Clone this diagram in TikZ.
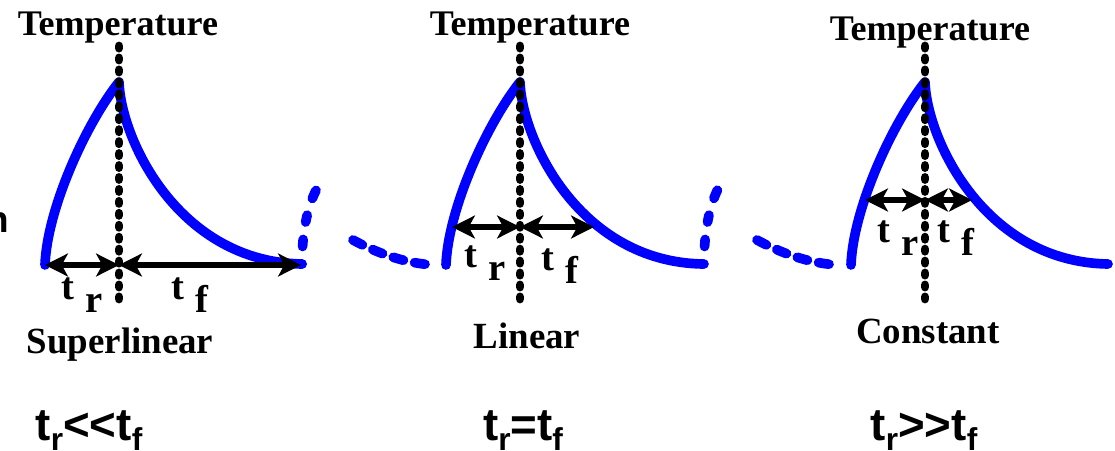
\documentclass[tikz,border=0pt]{standalone}
\usepackage{fontspec}
\setmainfont{Liberation Serif}
\newfontfamily\relfont{Liberation Sans}
\usepackage{tikz}
\usetikzlibrary{arrows.meta}

\newcommand{\tsub}[1]{t\hspace{0.3em}\raisebox{-0.34em}{#1}}
\newcommand{\rsub}[1]{t\raisebox{-0.22em}{\fontsize{18}{18}\selectfont #1}}

\begin{document}
\begin{tikzpicture}[
  x=0.02cm, y=-0.02cm,
  pulse/.style={draw=blue, line width=5.5pt, line cap=round, line join=round},
  tail/.style={draw=blue, line width=5.5pt, line cap=round},
  axis/.style={draw=black, line width=5pt, line cap=round, dash pattern=on 1.2pt off 5.6pt},
  span/.style={{Stealth[length=13pt,width=13pt,inset=3.5pt]}-{Stealth[length=13pt,width=13pt,inset=3.5pt]}, line width=3pt},
  head/.style={font=\fontsize{20.5}{22}\selectfont\bfseries, anchor=base, inner sep=0pt},
  tlbl/.style={font=\fontsize{22}{24}\selectfont\bfseries, anchor=base west, inner sep=0pt},
  cls/.style={font=\fontsize{21}{23}\selectfont\bfseries, anchor=base, inner sep=0pt},
  rel/.style={font=\relfont\fontsize{26}{28}\selectfont\bfseries, anchor=base, inner sep=0pt}
]
\useasboundingbox (0,0) rectangle (1115,450);
\node[font=\relfont\fontsize{21}{21}\selectfont\bfseries, anchor=base east, inner sep=0pt] (cut) at (9,232) {n};

% superlinear
\node[head] (temp1) at (118,35) {Temperature};
\coordinate (ax1a) at (119,46);
\coordinate (ax1b) at (119,299);
\coordinate (r1) at (45,265);
\coordinate (m1) at (119,265);
\coordinate (f1) at (301,265);
\draw[pulse] (45,265) .. controls (47,210) and (85,125) .. (119,82) .. controls (121,140) and (179,262) .. (302,264);
\draw[tail, dash pattern=on 0pt off 10pt on 4pt off 10pt on 4pt off 10pt on 5pt off 20pt] (302,264) .. controls (302,230) and (308,203) .. (319,185);
\draw[axis] (ax1a) -- (ax1b);
\draw[span] (r1) -- (m1);
\draw[span] (m1) -- (f1);
\node[tlbl] (tr1) at (61,299) {\tsub{r}};
\node[tlbl] (tf1) at (171,299) {\tsub{f}};
\node[cls] (cls1) at (120,353) {Superlinear};
\node[rel] (rel1) at (89,440) {\rsub{r}<<\rsub{f}};

% linear
\node[head] (temp2) at (530,35) {Temperature};
\coordinate (ax2a) at (520,46);
\coordinate (ax2b) at (520,299);
\coordinate (r2) at (452,227);
\coordinate (m2) at (520,227);
\coordinate (f2) at (594,227);
\draw[tail, dash pattern=on 6pt off 6.5pt] (353,240) .. controls (375,252) and (405,264) .. (436,265);
\draw[pulse] (446,265) .. controls (448,210) and (486,125) .. (520,82) .. controls (522,140) and (580,262) .. (703,264);
\draw[tail, dash pattern=on 0pt off 10pt on 4pt off 10pt on 4pt off 10pt on 5pt off 20pt] (704,264) .. controls (704,230) and (710,203) .. (720,185);
\draw[axis] (ax2a) -- (ax2b);
\draw[span] (r2) -- (m2);
\draw[span] (m2) -- (f2);
\node[tlbl] (tr2) at (464,267) {\tsub{r}};
\node[tlbl] (tf2) at (541,270) {\tsub{f}};
\node[cls] (cls2) at (527,348) {Linear};
\node[rel] (rel2) at (523,440) {\rsub{r}=\rsub{f}};

% constant
\node[head] (temp3) at (930,40) {Temperature};
\coordinate (ax3a) at (925,46);
\coordinate (ax3b) at (925,299);
\coordinate (r3) at (865,200);
\coordinate (m3) at (925,200);
\coordinate (f3) at (972,200);
\draw[tail, dash pattern=on 6pt off 6.5pt] (757,240) .. controls (779,252) and (809,264) .. (840,265);
\draw[pulse] (851,265) .. controls (853,210) and (891,125) .. (925,82) .. controls (927,140) and (985,262) .. (1108,264);
\draw[axis] (ax3a) -- (ax3b);
\draw[span] (r3) -- (m3);
\draw[span] (m3) -- (f3);
\node[tlbl] (tr3) at (877,242) {\tsub{r}};
\node[tlbl] (tf3) at (937,242) {\tsub{f}};
\node[cls] (cls3) at (928,343) {Constant};
\node[rel] (rel3) at (924,440) {\rsub{r}>>\rsub{f}};
\end{tikzpicture}
\end{document}
